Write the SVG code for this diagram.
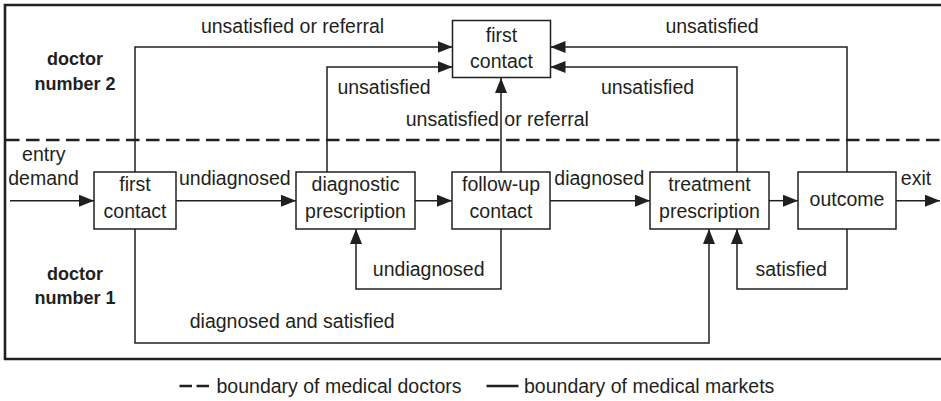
<svg xmlns="http://www.w3.org/2000/svg" width="941" height="401" viewBox="0 0 941 401">
<style>
text{font-family:"Liberation Sans",Arial,sans-serif;font-size:19.5px;fill:#231f20;text-anchor:middle}
text.b{font-weight:bold;font-size:18px}
text.l{text-anchor:start}
.box{fill:#fff;stroke:#231f20;stroke-width:1.5}
.c{fill:none;stroke:#231f20;stroke-width:1.5}
</style>
<defs>
<marker id="ah" markerUnits="userSpaceOnUse" markerWidth="15" markerHeight="12" refX="15" refY="6" orient="auto">
<path d="M0,0 L15,6 L0,12 z" fill="#231f20"/>
</marker>
</defs>
<rect width="941" height="401" fill="#fff"/>
<g id="frame">
<path d="M941,5 H5 V359 H941" fill="none" stroke="#231f20" stroke-width="2.6"/>
<line x1="6" y1="140" x2="941" y2="140" stroke="#231f20" stroke-width="2.6" stroke-dasharray="13.5 6.5"/>
</g>
<g id="connectors">
<path class="c" d="M10,200.7 H94" marker-end="url(#ah)"/>
<path class="c" d="M176,200.7 H296" marker-end="url(#ah)"/>
<path class="c" d="M415,200.7 H452" marker-end="url(#ah)"/>
<path class="c" d="M550,200.7 H650" marker-end="url(#ah)"/>
<path class="c" d="M769,200.7 H798" marker-end="url(#ah)"/>
<path class="c" d="M896,200.7 H940" marker-end="url(#ah)"/>
<path class="c" d="M135,172 V47 H452.5" marker-end="url(#ah)"/>
<path class="c" d="M327,172 V67 H452.5" marker-end="url(#ah)"/>
<path class="c" d="M501,172 V78" marker-end="url(#ah)"/>
<path class="c" d="M847,172 V47 H550.5" marker-end="url(#ah)"/>
<path class="c" d="M737,172 V67 H550.5" marker-end="url(#ah)"/>
<path class="c" d="M135,229 V343 H709 V229" marker-end="url(#ah)"/>
<path class="c" d="M501,229 V289 H356 V229" marker-end="url(#ah)"/>
<path class="c" d="M847,229 V289 H737 V229" marker-end="url(#ah)"/>
</g>
<g id="labels">
<text x="292.5" y="33">unsatisfied or referral</text>
<text x="712" y="33">unsatisfied</text>
<text x="384" y="94">unsatisfied</text>
<text x="647.5" y="94">unsatisfied</text>
<text x="497.3" y="126">unsatisfied or referral</text>
<text x="43.8" y="160.5">entry</text>
<text x="43.5" y="185">demand</text>
<text x="234.8" y="185">undiagnosed</text>
<text x="599.3" y="185">diagnosed</text>
<text x="916" y="185">exit</text>
<text x="428.7" y="276">undiagnosed</text>
<text x="791.3" y="276">satisfied</text>
<text x="292.2" y="328">diagnosed and satisfied</text>
</g>
<g id="doctor2">
<text class="b" x="75" y="65">doctor</text>
<text class="b" x="75" y="90">number 2</text>
</g>
<g id="doctor1">
<text class="b" x="75" y="280">doctor</text>
<text class="b" x="75" y="304">number 1</text>
</g>
<g id="firstContact2">
<rect class="box" x="452.5" y="20.5" width="98" height="57"/>
<text x="501.5" y="42">first</text>
<text x="501.5" y="68">contact</text>
</g>
<g id="firstContact1">
<rect class="box" x="94" y="172" width="82" height="57"/>
<text x="135" y="191">first</text>
<text x="135" y="218">contact</text>
</g>
<g id="diagnostic">
<rect class="box" x="296" y="172" width="119" height="57"/>
<text x="355.5" y="191">diagnostic</text>
<text x="355.5" y="218">prescription</text>
</g>
<g id="followUp">
<rect class="box" x="452" y="172" width="98" height="57"/>
<text x="501" y="191">follow-up</text>
<text x="501" y="218">contact</text>
</g>
<g id="treatment">
<rect class="box" x="650" y="172" width="119" height="57"/>
<text x="709.5" y="191">treatment</text>
<text x="709.5" y="218">prescription</text>
</g>
<g id="outcome">
<rect class="box" x="798" y="172" width="98" height="57"/>
<text x="847" y="206">outcome</text>
</g>
<g id="legend">
<line x1="179.5" y1="386" x2="211" y2="386" stroke="#231f20" stroke-width="2.4" stroke-dasharray="12.5 4.5"/>
<text class="l" x="216.5" y="393">boundary of medical doctors</text>
<line x1="486.5" y1="386" x2="518.5" y2="386" stroke="#231f20" stroke-width="2.4"/>
<text class="l" x="524" y="393">boundary of medical markets</text>
</g>
</svg>
